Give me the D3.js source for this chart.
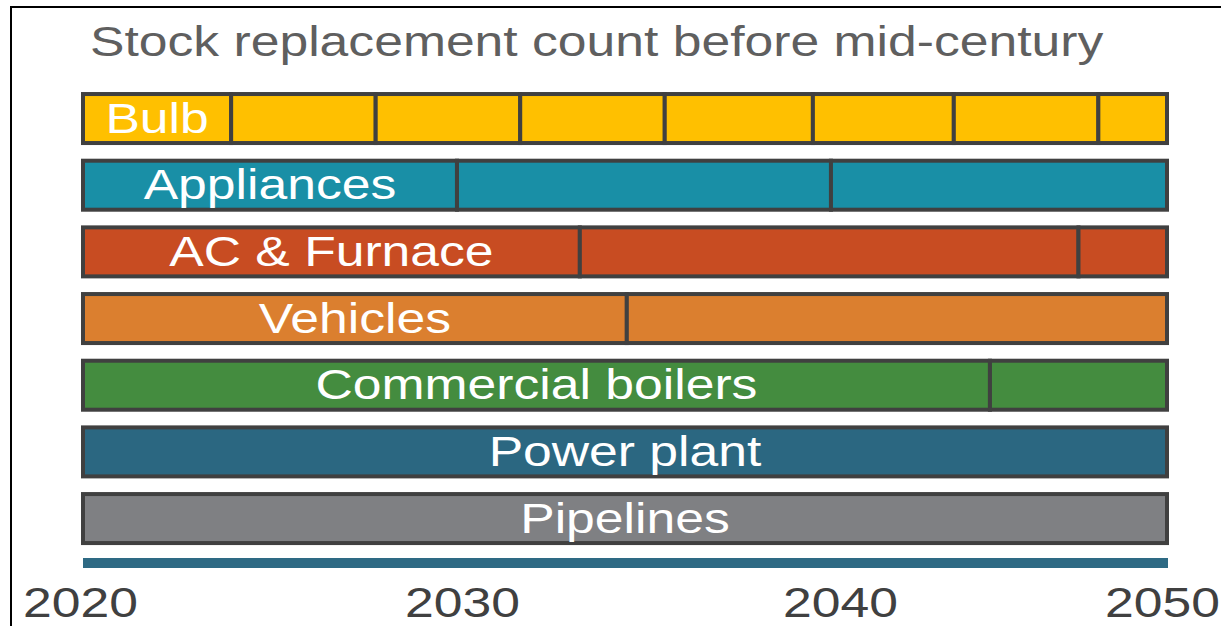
<!DOCTYPE html>
<html>
<head>
<meta charset="utf-8">
<script src="https://cdn.jsdelivr.net/npm/d3@7"></script>
<style>
  body { margin: 0; background: #fff; }
  svg { display: block; font-family: "Liberation Sans", Arial, sans-serif; }
</style>
</head>
<body>
<svg id="chart"></svg>
<script>
const width = 1221;
const height = 626;

// data
const categories = ["Bulb", "Appliances", "AC & Furnace", "Vehicles", "Commercial boilers", "Power plant", "Pipelines"];
const colors = ["#ffc000", "#198fa6", "#c84c22", "#db7f2f", "#448c3f", "#2b6781", "#7f8083"];
const replacements = [
  [2024.1, 2028.1, 2032.1, 2036.1, 2040.2, 2044.1, 2048.1],
  [2030.35, 2040.7],
  [2033.75, 2047.55],
  [2035.05],
  [2045.1],
  [],
  []
];
const startYear = 2020;
const endYear = 2050;
const tickYears = [2020, 2030, 2040, 2050];
const title = "Stock replacement count before mid-century";

const stretch = 1.23; // text in the picture is drawn wider than normal

const svg = d3.select("#chart")
              .attr("width", width)
              .attr("height", height);

// frame of the pasted picture
svg.append("rect")
   .attr("x", 11)
   .attr("y", 7)
   .attr("width", width + 20)
   .attr("height", height + 20)
   .attr("fill", "none")
   .attr("stroke", "#000")
   .attr("stroke-width", 2);

const x = d3.scaleLinear()
            .domain([startYear, endYear])
            .range([83, 1167]);

const y = d3.scaleBand()
            .domain(categories)
            .range([85.2, 551.9])
            .paddingInner(0.265)
            .paddingOuter(0.1325);

svg.append("text")
   .attr("transform", "translate(90,56) scale(" + stretch + ",1)")
   .attr("fill", "#5f5f5f")
   .style("font-size", "42px")
   .text(title);

const rows = svg.append("g")
                .selectAll("g")
                .data(categories)
                .enter()
                .append("g");

rows.each(function(cat, i) {
  const bounds = [startYear, ...replacements[i], endYear];
  const segs = d3.pairs(bounds);
  d3.select(this).selectAll("rect")
    .data(segs)
    .enter()
    .append("rect")
    .attr("x", d => x(d[0]))
    .attr("y", y(cat))
    .attr("width", d => x(d[1]) - x(d[0]))
    .attr("height", y.bandwidth())
    .attr("fill", colors[i])
    .attr("stroke", "#404040")
    .attr("stroke-width", 4);

  // label centred in first segment
  const cx = (x(segs[0][0]) + x(segs[0][1])) / 2;
  d3.select(this).append("text")
    .attr("transform", "translate(" + cx + "," + (y(cat) + y.bandwidth() / 2 + 14) + ") scale(" + stretch + ",1)")
    .attr("text-anchor", "middle")
    .attr("fill", "#fff")
    .style("font-size", "42px")
    .text(cat);
});

// time bar under the rows
svg.append("rect")
   .attr("x", x(startYear))
   .attr("y", 558)
   .attr("width", x(endYear) - x(startYear) + 1)
   .attr("height", 10)
   .attr("fill", "#2e6a84");

// tick labels sit a bit off the bar scale in the picture
const labelX = d3.scaleLinear()
                 .domain(tickYears)
                 .range([80, 462, 840, 1162]);

const axis = svg.append("g")
                .attr("transform", "translate(0,574)")
                .call(d3.axisBottom(labelX)
                        .tickValues(tickYears)
                        .tickFormat(d3.format("d"))
                        .tickSize(0));

axis.select(".domain").remove();
axis.selectAll("text")
    .attr("y", 43)
    .attr("dy", null)
    .attr("transform", "scale(" + stretch + ",1)")
    .attr("fill", "#404040")
    .style("font-size", "42px")
    .style("font-family", "\"Liberation Sans\", Arial, sans-serif");
</script>
</body>
</html>
